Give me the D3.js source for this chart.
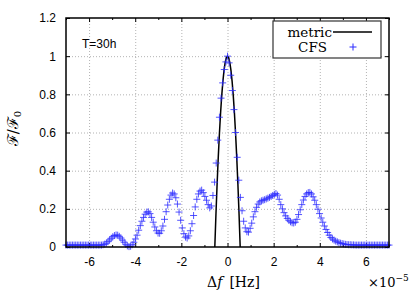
<!DOCTYPE html>
<head>
  <meta charset="utf-8">
  <script src="https://d3js.org/d3.v7.min.js"></script>
  <style>
    body { margin:0; background:#fff; }
    .tick text { font-family: "Liberation Sans", Arial, sans-serif; font-size: 12px; fill:#000; }
    .grid line { stroke:#a0a0a0; stroke-dasharray:1,2; stroke-width:0.8; }
    .grid .domain { display:none; }
    .ax .domain { display:none; }
    .ax line { stroke:#000; stroke-width:1; }
    .serif { font-family: "DejaVu Serif", serif; fill:#000; }
  </style>
</head>
<body>
  <script>
    // x ticks (units of 1e-5 Hz) and y ticks
    var xMajor = [-6, -4, -2, 0, 2, 4, 6];
    var xMinor = [-7, -5, -3, -1, 1, 3, 5, 7];
    var yTicks = [0, 0.2, 0.4, 0.6, 0.8, 1, 1.2];

    // metric (quadratic approximation)
    var metricX = [-0.55, -0.5, -0.45, -0.4, -0.35, -0.3, -0.25, -0.2, -0.15, -0.1, -0.05, 0,
                   0.05, 0.1, 0.15, 0.2, 0.25, 0.3, 0.35, 0.4, 0.45, 0.5, 0.55];
    var metricF = [0, 0.174, 0.331, 0.471, 0.595, 0.702, 0.793, 0.868, 0.926, 0.967, 0.992, 1,
                   0.992, 0.967, 0.926, 0.868, 0.793, 0.702, 0.595, 0.471, 0.331, 0.174, 0];

    // CFS points, one every 0.07e-5 Hz from -7e-5 to 7e-5
    var cfsStart = -7, cfsStep = 0.07;
    var cfsF = [
      0.01,0.01,0.01,0.01,0.01,0.01,0.01,0.01,0.01,0.01,0.01,0.01,0.01,0.01,0.01,0.01,0.01,0.01,0.01,0.01,0.01,0.01,0.01,
      0.012,0.015,0.02,0.028,0.037,0.046,0.054,0.06,0.063,0.062,0.056,0.047,0.036,0.025,0.014,0.006,0.002,
      0.004,0.012,0.025,0.042,0.062,0.088,0.112,0.135,0.155,0.172,0.183,0.184,0.175,0.155,0.13,0.105,0.085,0.073,0.072,0.085,
      0.11,0.145,0.185,0.22,0.25,0.272,0.283,0.278,0.258,0.225,0.183,0.14,0.1,0.07,0.052,0.047,0.058,0.085,0.122,0.165,
      0.21,0.25,0.278,0.293,0.298,0.285,0.265,0.245,0.222,0.205,0.215,0.27,0.34,0.44,0.56,0.68,0.78,0.86,0.93,0.97,
      1.0,0.965,0.9,0.82,0.72,0.6,0.47,0.35,0.26,0.19,0.135,0.1,0.08,0.078,0.098,0.125,0.158,0.185,0.208,0.225,
      0.236,0.242,0.245,0.248,0.252,0.256,0.26,0.265,0.27,0.276,0.28,0.272,0.25,0.222,0.2,0.18,0.163,0.15,0.14,0.132,
      0.127,0.126,0.13,0.145,0.17,0.195,0.222,0.246,0.265,0.278,0.285,0.286,0.278,0.263,0.245,0.222,0.198,0.175,0.152,0.13,
      0.11,0.092,0.076,0.062,0.05,0.042,0.036,0.031,0.027,0.023,0.02,0.018,0.016,0.014,0.013,0.012,0.012,0.011,0.011,0.01,
      0.01,0.01,0.01,0.01,0.01,0.01,0.01,0.01,0.01,0.01,0.01,0.01,0.01,0.01,0.01,0.01,0.01,0.01,0.01,0.01,0.01
    ];

    var margin = { top: 18, right: 26, bottom: 45, left: 66 };
    var width = 415 - margin.left - margin.right;
    var height = 292 - margin.top - margin.bottom;

    var root = d3.select("body").append("svg")
      .attr("width", 415)
      .attr("height", 292);
    var svg = root.append("g")
      .attr("transform", "translate(" + margin.left + "," + margin.top + ")");

    var x = d3.scaleLinear().domain([-7, 7]).range([0, width]);
    var y = d3.scaleLinear().domain([0, 1.2]).range([height, 0]);

    // grid
    svg.append("g").attr("class", "grid")
      .attr("transform", "translate(0," + height + ")")
      .call(d3.axisBottom(x).tickValues(xMajor).tickSize(-height).tickFormat(""));
    svg.append("g").attr("class", "grid")
      .call(d3.axisLeft(y).tickValues(yTicks.slice(1, -1)).tickSize(-width).tickFormat(""));

    // axes, ticks pointing inward; plain hyphen for negatives like gnuplot
    svg.append("g").attr("class", "ax")
      .attr("transform", "translate(0," + height + ")")
      .call(d3.axisBottom(x).tickValues(xMajor).tickSizeInner(-4).tickSizeOuter(0).tickPadding(10)
        .tickFormat(function(d) { return String(d); }));
    svg.append("g").attr("class", "ax")
      .attr("transform", "translate(0," + height + ")")
      .call(d3.axisBottom(x).tickValues(xMinor).tickSize(-2).tickFormat(""));
    svg.append("g").attr("class", "ax")
      .call(d3.axisTop(x).tickValues(xMajor).tickSize(-4).tickFormat(""));
    svg.append("g").attr("class", "ax")
      .call(d3.axisTop(x).tickValues(xMinor).tickSize(-2).tickFormat(""));
    svg.append("g").attr("class", "ax")
      .call(d3.axisLeft(y).tickValues(yTicks).tickSizeInner(-4).tickSizeOuter(0).tickPadding(10)
        .tickFormat(function(d) { return String(d); }));
    svg.append("g").attr("class", "ax")
      .attr("transform", "translate(" + width + ",0)")
      .call(d3.axisRight(y).tickValues(yTicks).tickSize(-4).tickFormat(""));

    svg.append("defs").append("clipPath").attr("id", "clip")
      .append("rect").attr("width", width).attr("height", height);

    // metric line
    var metric = metricX.map(function(d, i) { return [d, metricF[i]]; });
    svg.append("path")
      .datum(metric)
      .attr("clip-path", "url(#clip)")
      .attr("fill", "none")
      .attr("stroke", "#000")
      .attr("stroke-width", 1.5)
      .attr("d", d3.line().x(function(d) { return x(d[0]); }).y(function(d) { return y(d[1]); }));

    // CFS points
    var plus = "M-3.5,0h7M0,-3.5v7";
    svg.selectAll(".cfs")
      .data(cfsF)
      .enter()
      .append("path")
      .attr("class", "cfs")
      .attr("d", plus)
      .attr("transform", function(d, i) {
        return "translate(" + x(cfsStart + cfsStep * i) + "," + y(d) + ")";
      })
      .attr("fill", "none")
      .attr("stroke", "#2a2aff")
      .attr("stroke-opacity", 0.8)
      .attr("stroke-width", 1);

    // frame
    svg.append("rect")
      .attr("width", width).attr("height", height)
      .attr("fill", "none").attr("stroke", "#000").attr("stroke-width", 1.5);

    // legend
    var lg = svg.append("g").attr("transform", "translate(" + (width - 116) + ",3)");
    lg.append("rect").attr("width", 108).attr("height", 37)
      .attr("fill", "#fff").attr("stroke", "#333").attr("stroke-width", 1.2);
    lg.append("text").attr("class", "serif").attr("x", 59).attr("y", 16)
      .attr("text-anchor", "end").style("font-size", "13.5px").text("metric");
    lg.append("line").attr("x1", 60).attr("x2", 99).attr("y1", 11).attr("y2", 11)
      .attr("stroke", "#000").attr("stroke-width", 1.5);
    lg.append("text").attr("class", "serif").attr("x", 54).attr("y", 31)
      .attr("text-anchor", "end").style("font-size", "13.5px").text("CFS");
    lg.append("path").attr("d", plus).attr("transform", "translate(80,26)")
      .attr("fill", "none").attr("stroke", "#2a2aff").attr("stroke-width", 1);

    // T=30h
    svg.append("text").attr("x", 16).attr("y", 30)
      .style("font-family", "Liberation Sans, Arial, sans-serif").style("font-size", "12px")
      .text("T=30h");

    // axis labels
    var xl = root.append("text").attr("class", "serif")
      .attr("x", margin.left + x(0) + 6).attr("y", 287)
      .attr("text-anchor", "middle").style("font-size", "14px");
    xl.append("tspan").text("Δ");
    xl.append("tspan").style("font-style", "italic").text("f");
    xl.append("tspan").attr("dx", 7).text("[Hz]");

    var ex = root.append("text").attr("class", "serif")
      .attr("x", 368).attr("y", 287).style("font-size", "13px");
    ex.append("tspan").text("×10");
    ex.append("tspan").attr("dy", -6).style("font-size", "9px").text("−5");

    var yl = root.append("text").attr("class", "serif")
      .attr("transform", "translate(18," + (margin.top + height / 2 - 4) + ") rotate(-90)")
      .attr("text-anchor", "middle").style("font-size", "15px");
    yl.append("tspan").text("ℱ/ℱ");
    yl.append("tspan").attr("dy", 3).style("font-size", "10px").text("0");
  </script>
</body>
